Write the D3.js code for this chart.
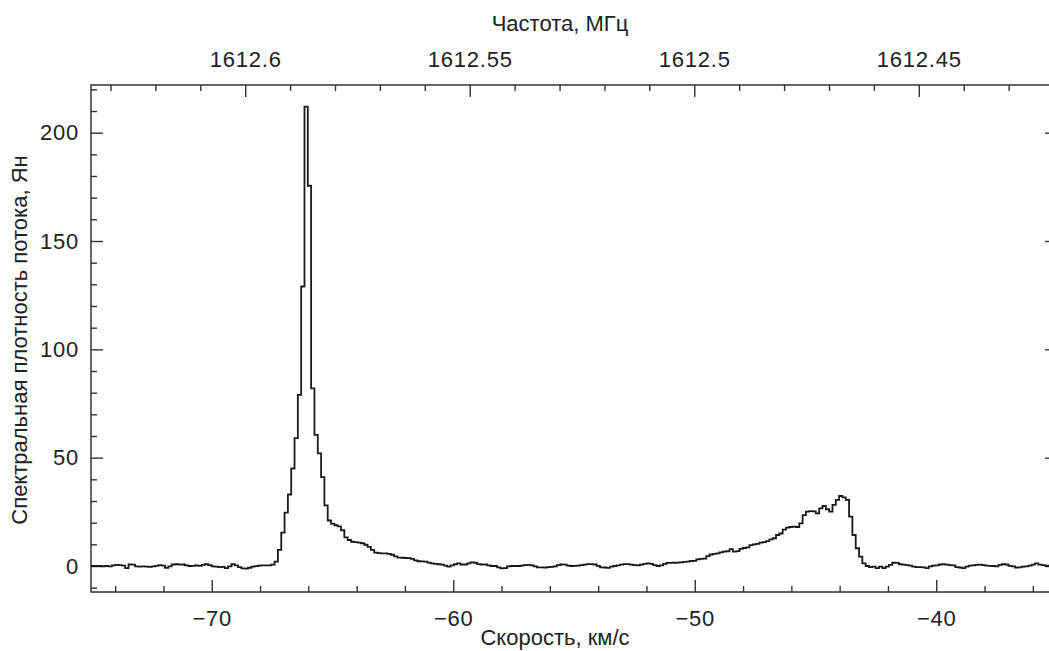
<!DOCTYPE html>
<html>
<head>
<meta charset="utf-8">
<script src="https://cdn.jsdelivr.net/npm/d3@7"></script>
<style>
  body { margin: 0; background: #fff; }
  svg { display: block; font-family: "Liberation Sans", Arial, sans-serif; }
</style>
</head>
<body>
<div id="vis"></div>
<script>
// channel grid (km/s)
const velStart = -75.0975;
const chanWidth = 0.1375;
const restFreq = 1612.231; // MHz, OH line
const lightSpeed = 299792.458;

// flux density, Jy, per channel
const fluxBaseLeft = [0.1, 0, 0, 0.1, -0.2, 0, -0.2, 0.3, 0.5, 0.4, 0.2, -1, 0.7, 0.6, -0.2, -0.3, -0.2, -0.3, -0.4, -0.2,
  0.1, 0.4, 0.2, -0.9, -0.2, 0.7, 0.8, 0.6, 0.7, 0.3, 0, 0.1, 0.3, 0.1, 0.5, 0.8, 0.4, -0.2, -0.3, -0.5,
  -0.4, -1, -0.2, 0.8, 0.3, -0.5, -1.1, -1.2, -0.8, -0.3, -0.1, 0.2, 0.3, 0.3, 0.3, 0.6];
const fluxMainPeak = [2, 7.4, 15.4, 24.6, 33, 45, 59, 79, 129, 212, 175.5];
const fluxWing = [82, 60.5, 52, 41, 28, 21, 19.5, 18.8, 18.3, 16.5, 13.2, 12, 11.2, 11, 10.8, 10.5, 9.8, 8.8, 7.4, 6.2,
  5.9, 5.8, 5.8, 5.6, 5.2, 4.4, 3.9, 3.8, 3.7, 3.6, 3.3, 2.6, 2.2, 2.1, 2, 1.6];
const fluxMid = [1.2, 1, 0.8, 0.6, 0.2, -0.3, 0.3, 0.8, 1.2,
  0.7, 0.7, 1.2, 1.7, 1.5, 0.9, 0.7, 0.7, 0.3, 0, 0, -0.6, -1.1, -1, -0.2, 0, 0, 0, 0.2, 0.4,
  0.5, 0.3, -0.2, -0.6, -0.6, -0.7, -0.5, -0.4, -0.2, 0.4, 0.7, 0.6, 0.2, 0, 0.1, 0.2, 0.4, 0.6, 0.9, 0.9,
  0.7, 0.1, -0.6, -0.7, -0.9, -0.3, 0, 0.3, 0.6, 0.9, 0.9, 0.6, 0.4, 0.3, 0.6, 1, 1.2, 1, 0.4, 0,
  0.3, 1, 1.4, 1.4, 1.5, 1.6, 1.7, 1.9, 2];
const fluxShell = [2.3, 2.4, 3.1, 3.3, 3.4, 4.6, 5.3, 5.6, 5.8, 6.3, 6.6, 6.8, 7.8, 6.6, 6.9, 7.9, 8.3, 8.6, 9.6, 10,
  10.2, 10.8, 11, 11.5, 12.3, 12.8, 14.3, 15, 16.8, 17.7, 18, 18.2, 18, 19.7, 23.5, 25.1, 25.3, 25.2, 24.3, 26.6,
  27.7, 26.2, 25.1, 28.2, 30.5, 32.3, 31.7, 30.5, 22.8, 14.3, 8.2, 4.3, 1.2, 0];
const fluxBaseRight = [-0.5, -0.3, -1, -0.3, -1, -0.3, 0.5, 1.5, 1.4, 0.8, 0.6, 0.4, 0.2, -0.3, -0.5, -0.5, -0.6, -1, -0.2, 0.2,
  0.3, 0.7, 0.8, 0.6, 0.4, 0.3, -0.5, -0.7, -1, -0.3, 0.2, 0.3, 0.5, 0.6, 0.4, 0.2, 0.1, 0, -0.2, 0.5,
  0.8, 0.7, 0.1, -0.2, -0.7, -0.6, -0.3, -0.2, 0.2, 0.6, 1.2, 0.6, 0.4, 0.2, 0.1, 0.2, 0.1];

const fluxTicks = [0, 50, 100, 150, 200];
const velTicks = [-70, -60, -50, -40];
const freqTicks = [1612.6, 1612.55, 1612.5, 1612.45];

const flux = [].concat(fluxBaseLeft, fluxMainPeak, fluxWing, fluxMid, fluxShell, fluxBaseRight);
const spectrum = flux.map((f, i) => ({ v: velStart + i * chanWidth, f }));
spectrum.push({ v: velStart + flux.length * chanWidth, f: flux[flux.length - 1] });

const margin = { top: 85, right: -8, bottom: 59, left: 91 };
const W = 1049, H = 651;
const width = W - margin.left - margin.right;
const height = H - margin.top - margin.bottom;

const svg = d3.select("#vis").append("svg")
  .attr("width", W)
  .attr("height", H);

const g = svg.append("g").attr("transform", `translate(${margin.left},${margin.top})`);

const x = d3.scaleLinear().domain([-75, -35]).range([0, width]);
const y = d3.scaleLinear().domain([-12, 222]).range([height, 0]);
const toFreq = v => restFreq * (1 - v / lightSpeed);
const xf = d3.scaleLinear().domain([toFreq(-75), toFreq(-35)]).range([0, width]);

const tickFont = 22;
function styleAxis(sel) {
  sel.select(".domain").remove();
  sel.selectAll(".tick line").attr("stroke", "#333").attr("stroke-width", 1.4);
  sel.selectAll(".tick text")
    .attr("fill", "#222")
    .style("font-size", tickFont + "px")
    .style("letter-spacing", "0.8px");
}

// minor ticks
const minorVel = d3.range(-74, -35, 2).filter(v => v % 10 !== 0);
const minorFlux = d3.range(-10, 221, 10).filter(v => v % 50 !== 0);
const minorFreq = d3.range(1612.42, 1612.635, 0.01).map(d => +d.toFixed(2))
  .filter(d => !freqTicks.some(t => Math.abs(t - d) < 1e-6));

g.append("g").attr("transform", `translate(0,${height})`)
  .call(d3.axisBottom(x).tickValues(velTicks).tickSize(-12).tickPadding(18))
  .call(styleAxis);
g.append("g").attr("transform", `translate(0,${height})`)
  .call(d3.axisBottom(x).tickValues(minorVel).tickSize(-6).tickFormat(""))
  .call(styleAxis);

g.append("g")
  .call(d3.axisTop(xf).tickValues(freqTicks).tickSize(-12).tickPadding(18).tickFormat(d => +d.toFixed(2)))
  .call(styleAxis);
g.append("g")
  .call(d3.axisTop(xf).tickValues(minorFreq).tickSize(-6).tickFormat(""))
  .call(styleAxis);

g.append("g")
  .call(d3.axisLeft(y).tickValues(fluxTicks).tickSize(-12).tickPadding(12))
  .call(styleAxis);
g.append("g")
  .call(d3.axisLeft(y).tickValues(minorFlux).tickSize(-6).tickFormat(""))
  .call(styleAxis);
g.append("g").attr("transform", `translate(${width},0)`)
  .call(d3.axisRight(y).tickValues(fluxTicks).tickSize(-12).tickFormat(""))
  .call(styleAxis);
g.append("g").attr("transform", `translate(${width},0)`)
  .call(d3.axisRight(y).tickValues(minorFlux).tickSize(-6).tickFormat(""))
  .call(styleAxis);

// frame
g.append("rect")
  .attr("width", width)
  .attr("height", height)
  .attr("fill", "none")
  .attr("stroke", "#333")
  .attr("stroke-width", 1.5);

g.append("clipPath").attr("id", "plot-clip")
  .append("rect").attr("width", width).attr("height", height);

const line = d3.line()
  .curve(d3.curveStepAfter)
  .x(d => x(d.v))
  .y(d => y(d.f));

g.append("path")
  .datum(spectrum)
  .attr("clip-path", "url(#plot-clip)")
  .attr("fill", "none")
  .attr("stroke", "#1a1a1a")
  .attr("stroke-width", 1.8)
  .attr("stroke-linejoin", "miter")
  .attr("d", line);

// axis titles
svg.append("text")
  .attr("x", 560).attr("y", 31)
  .attr("text-anchor", "middle")
  .attr("fill", "#222")
  .style("font-size", "22px")
  .text("Частота, МГц");

svg.append("text")
  .attr("x", 555).attr("y", 645)
  .attr("text-anchor", "middle")
  .attr("fill", "#222")
  .style("font-size", "22px")
  .text("Скорость, км/с");

svg.append("text")
  .attr("transform", "translate(27,340) rotate(-90)")
  .attr("text-anchor", "middle")
  .attr("fill", "#222")
  .style("font-size", "22px")
  .text("Спектральная плотность потока, Ян");
</script>
</body>
</html>
